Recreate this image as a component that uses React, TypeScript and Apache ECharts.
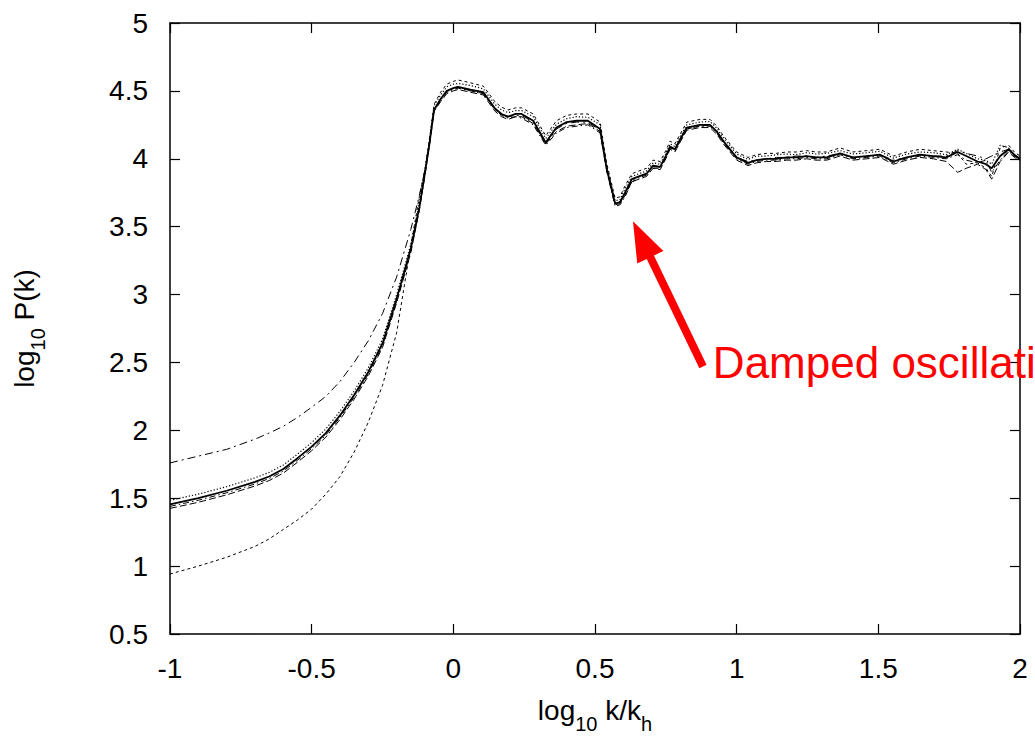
import { useEffect, useRef } from "react";
import * as echarts from "echarts";

// log10 k/kh sample positions
const xs = [
  -1, -0.9, -0.8, -0.7, -0.65, -0.6, -0.55, -0.5, -0.45, -0.4, -0.35, -0.3,
  -0.25, -0.2, -0.15, -0.12, -0.1, -0.085, -0.068, -0.045, -0.023, 0,
  0.017, 0.06, 0.106, 0.147, 0.17, 0.193, 0.22, 0.241, 0.282, 0.326,
  0.364, 0.4, 0.435, 0.475, 0.518, 0.541, 0.571, 0.588, 0.606, 0.63,
  0.655, 0.682, 0.705, 0.73, 0.75, 0.765, 0.782, 0.8, 0.824, 0.87,
  0.906, 0.93, 0.953, 0.988, 1.0, 1.04, 1.07, 1.106, 1.14, 1.177,
  1.21, 1.247, 1.28, 1.318, 1.365, 1.41, 1.459, 1.506, 1.553, 1.6,
  1.647, 1.694, 1.74, 1.78, 1.81, 1.85, 1.88, 1.9, 1.93, 1.96, 1.98, 2.0,
];

const solidLine = [
  1.455, 1.5, 1.555, 1.62, 1.66, 1.715, 1.795, 1.88, 1.98, 2.11, 2.26, 2.43,
  2.64, 2.97, 3.34, 3.64, 3.9, 4.1, 4.36, 4.44, 4.5, 4.52,
  4.53, 4.51, 4.49, 4.37, 4.33, 4.31, 4.33, 4.33, 4.28, 4.12,
  4.23, 4.27, 4.28, 4.28, 4.22, 3.93, 3.67, 3.68, 3.75, 3.85,
  3.87, 3.89, 3.95, 3.94, 4.02, 4.09, 4.07, 4.14, 4.23, 4.25,
  4.25, 4.2, 4.13, 4.04, 4.01, 3.97, 3.99, 4.0, 4.0, 4.01,
  4.01, 4.02, 4.01, 4.01, 4.04, 4.01, 4.02, 4.03, 3.98, 4.01,
  4.03, 4.02, 4.01, 4.05, 4.02, 3.98, 3.96, 3.93, 4.02, 4.07, 4.03, 4.0,
];

const dottedLine = [
  1.485, 1.53, 1.585, 1.65, 1.69, 1.745, 1.825, 1.91, 2.01, 2.14, 2.29, 2.46,
  2.67, 3.0, 3.37, 3.67, 3.93, 4.13, 4.39, 4.47, 4.53, 4.55,
  4.555, 4.54, 4.515, 4.4, 4.36, 4.34, 4.355, 4.355, 4.31, 4.15,
  4.255, 4.295, 4.31, 4.305, 4.25, 3.95, 3.69, 3.7, 3.78, 3.87,
  3.89, 3.91, 3.97, 3.96, 4.04, 4.11, 4.09, 4.16, 4.25, 4.27,
  4.275, 4.225, 4.155, 4.065, 4.035, 3.995, 4.02, 4.02, 4.03, 4.035,
  4.03, 4.045, 4.035, 4.04, 4.06, 4.035, 4.045, 4.055, 4.005, 4.035,
  4.05, 4.045, 4.03, 4.07, 4.04, 4.0, 3.99, 3.96, 4.1, 4.08, 4.02, 3.99,
];

const longDashLine = [
  1.425, 1.47, 1.525, 1.59, 1.63, 1.685, 1.765, 1.85, 1.95, 2.08, 2.23, 2.4,
  2.61, 2.94, 3.31, 3.62, 3.88, 4.09, 4.35, 4.42, 4.48, 4.5,
  4.51, 4.49, 4.47, 4.35, 4.31, 4.29, 4.31, 4.31, 4.26, 4.11,
  4.2, 4.24, 4.25, 4.26, 4.2, 3.92, 3.66, 3.67, 3.73, 3.83,
  3.85, 3.87, 3.93, 3.92, 4.0, 4.07, 4.05, 4.12, 4.21, 4.23,
  4.23, 4.18, 4.11, 4.02, 3.99, 3.95, 3.97, 3.98, 3.98, 3.99,
  3.99, 4.0, 3.99, 3.99, 4.02, 3.99, 4.0, 4.01, 3.96, 3.99,
  4.01, 4.0, 3.98, 3.9, 3.93, 3.96, 3.92, 3.85, 3.98, 4.05, 4.01, 3.99,
];

const dashDotLine = [
  1.44, 1.485, 1.54, 1.605, 1.645, 1.7, 1.78, 1.865, 1.965, 2.095, 2.245, 2.415,
  2.625, 2.955, 3.32, 3.63, 3.89, 4.1, 4.35, 4.43, 4.49, 4.51,
  4.52, 4.5, 4.48, 4.36, 4.32, 4.3, 4.31, 4.3, 4.25, 4.1,
  4.19, 4.23, 4.24, 4.25, 4.19, 3.91, 3.65, 3.66, 3.72, 3.83,
  3.86, 3.88, 3.93, 3.93, 4.01, 4.08, 4.06, 4.13, 4.22, 4.24,
  4.24, 4.19, 4.12, 4.03, 4.0, 3.96, 3.98, 3.99, 3.99, 4.0,
  4.0, 4.01, 4.0, 4.0, 4.03, 4.0, 4.01, 4.02, 3.97, 4.0,
  4.02, 4.01, 4.0, 4.03, 3.99, 3.97, 3.99, 3.9, 3.99, 4.06, 4.02, 4.0,
];

const upperDashDotLine = [
  1.76, 1.81, 1.86, 1.935, 1.98, 2.03, 2.095, 2.17, 2.25, 2.36, 2.5, 2.66,
  2.86, 3.13, 3.48, 3.73, 3.92, 4.11, 4.36, 4.44, 4.5, 4.52,
  4.53, 4.5, 4.48, 4.37, 4.32, 4.31, 4.32, 4.32, 4.27, 4.11,
  4.22, 4.26, 4.27, 4.27, 4.21, 3.93, 3.67, 3.68, 3.74, 3.84,
  3.87, 3.89, 3.94, 3.94, 4.02, 4.08, 4.07, 4.14, 4.22, 4.24,
  4.25, 4.2, 4.13, 4.04, 4.01, 3.98, 3.99, 4.0, 4.01, 4.01,
  4.02, 4.02, 4.01, 4.02, 4.04, 4.01, 4.02, 4.03, 3.99, 4.01,
  4.03, 4.02, 4.02, 4.06, 4.04, 4.02, 4.0, 4.02, 4.05, 4.07, 4.02, 4.0,
];

const lowerDashLine = [
  0.942, 1.0, 1.065, 1.145, 1.2, 1.27, 1.34, 1.42, 1.53, 1.66, 1.84, 2.06,
  2.33, 2.72, 3.36, 3.72, 3.92, 4.13, 4.4, 4.49, 4.55, 4.57,
  4.58, 4.56, 4.535, 4.42, 4.38, 4.36, 4.375, 4.375, 4.33, 4.17,
  4.28, 4.32, 4.33, 4.33, 4.27, 3.97, 3.71, 3.72, 3.8, 3.89,
  3.91, 3.93, 3.99, 3.98, 4.06, 4.13, 4.11, 4.18, 4.27, 4.29,
  4.29, 4.24, 4.17, 4.08, 4.05, 4.01, 4.03, 4.04, 4.04, 4.05,
  4.05, 4.06, 4.05, 4.05, 4.08, 4.05, 4.06, 4.07, 4.02, 4.05,
  4.07, 4.06, 4.05, 4.04, 3.96, 3.97, 3.93, 3.87, 4.08, 4.1, 4.05, 4.02,
];

const xTicks = { min: -1, max: 2, step: 0.5 };
const yTicks = { min: 0.5, max: 5, step: 0.5 };

// the annotation as it is visible in the reference (cut by the figure edge there)
const annotationText = "Damped oscillati";

const FONT = "'Liberation Sans', Arial, Helvetica, sans-serif";

export default function App() {
  const ref = useRef<HTMLDivElement>(null);

  useEffect(() => {
    if (!ref.current) return;
    const chart = echarts.init(ref.current, null, { renderer: "svg" });

    const defs = [
      { values: upperDashDotLine, dash: [8, 4, 2, 4], width: 1, z: 2 },
      { values: lowerDashLine, dash: [3, 3], width: 1, z: 2 },
      { values: dottedLine, dash: [1.2, 2], width: 1.2, z: 3 },
      { values: longDashLine, dash: [7, 3], width: 1, z: 3 },
      { values: dashDotLine, dash: [6, 3, 1.5, 3], width: 1, z: 3 },
      { values: solidLine, dash: "solid", width: 1.8, z: 4 },
    ];

    const series = defs.map((d) => ({
      type: "line",
      data: xs.map((x, i) => [x, d.values[i]]),
      symbol: "none",
      showSymbol: false,
      silent: true,
      xAxisIndex: 0,
      yAxisIndex: 0,
      z: d.z,
      lineStyle: { color: "#000", width: d.width, type: d.dash },
    }));

    const axisCommon = {
      axisLine: { show: true, onZero: false, lineStyle: { color: "#000", width: 1.5 } },
      axisTick: { show: true, inside: true, length: 10, lineStyle: { color: "#000", width: 1.2 } },
      splitLine: { show: false },
    };

    const labelStyle = { color: "#000", fontFamily: FONT, fontSize: 28 };

    const titleRich = {
      a: { fontFamily: FONT, fontSize: 28, color: "#000", lineHeight: 40, verticalAlign: "top" },
      s: { fontFamily: FONT, fontSize: 20, color: "#000", lineHeight: 22, padding: [18, 0, 0, 0], verticalAlign: "top" },
    };

    chart.setOption({
      animation: false,
      backgroundColor: "#fff",
      grid: { left: 170, right: 15, top: 23, bottom: 102, containLabel: false },
      xAxis: [
        {
          type: "value",
          position: "bottom",
          min: xTicks.min,
          max: xTicks.max,
          interval: xTicks.step,
          ...axisCommon,
          axisLabel: { ...labelStyle, margin: 20, lineHeight: 28, formatter: (v: number) => String(v) },
          name: "{a|log}{s|10}{a| k/k}{s|h}",
          nameLocation: "middle",
          nameGap: 62,
          nameTextStyle: { rich: titleRich },
        },
        {
          type: "value",
          position: "top",
          min: xTicks.min,
          max: xTicks.max,
          interval: xTicks.step,
          ...axisCommon,
          axisLabel: { show: false },
        },
      ],
      yAxis: [
        {
          type: "value",
          position: "left",
          min: yTicks.min,
          max: yTicks.max,
          interval: yTicks.step,
          ...axisCommon,
          axisLabel: { ...labelStyle, margin: 22, formatter: (v: number) => String(v) },
          name: "{a|log}{s|10}{a| P(k)}",
          nameLocation: "middle",
          nameGap: 120,
          nameTextStyle: { rich: titleRich },
        },
        {
          type: "value",
          position: "right",
          min: yTicks.min,
          max: yTicks.max,
          interval: yTicks.step,
          ...axisCommon,
          axisLabel: { show: false },
        },
      ],
      series,
    });

    // Annotation arrow placed in data coordinates
    const tip = chart.convertToPixel({ xAxisIndex: 0, yAxisIndex: 0 }, [0.634, 3.54]) as number[];
    const tail = chart.convertToPixel({ xAxisIndex: 0, yAxisIndex: 0 }, [0.881, 2.47]) as number[];
    const textPos = chart.convertToPixel({ xAxisIndex: 0, yAxisIndex: 0 }, [0.916, 2.5]) as number[];
    const dx = tip[0] - tail[0];
    const dy = tip[1] - tail[1];
    const len = Math.sqrt(dx * dx + dy * dy);
    const ux = dx / len;
    const uy = dy / len;
    const nx = -uy;
    const ny = ux;
    const headLen = 40;
    const headHalf = 14.5;
    const bx = tip[0] - ux * headLen;
    const by = tip[1] - uy * headLen;
    const shaftEnd = [tip[0] - ux * 30, tip[1] - uy * 30];

    chart.setOption({
      graphic: [
        {
          type: "line",
          silent: true,
          z: 10,
          shape: { x1: tail[0], y1: tail[1], x2: shaftEnd[0], y2: shaftEnd[1] },
          style: { stroke: "#ff0000", lineWidth: 8 },
        },
        {
          type: "polygon",
          silent: true,
          z: 10,
          shape: {
            points: [
              [tip[0], tip[1]],
              [bx + nx * headHalf, by + ny * headHalf],
              [bx - nx * headHalf, by - ny * headHalf],
            ],
          },
          style: { fill: "#ff0000" },
        },
        {
          type: "text",
          silent: true,
          z: 10,
          x: textPos[0],
          y: textPos[1],
          style: {
            text: annotationText,
            fill: "#ff0000",
            font: `44px ${FONT}`,
            fontSize: 44,
            fontFamily: FONT,
            align: "left",
            verticalAlign: "middle",
          },
        },
      ],
    });

    return () => chart.dispose();
  }, []);

  return (
    <div
      ref={ref}
      style={{ position: "absolute", left: 0, top: 0, width: 1035, height: 739, background: "#fff" }}
    />
  );
}
